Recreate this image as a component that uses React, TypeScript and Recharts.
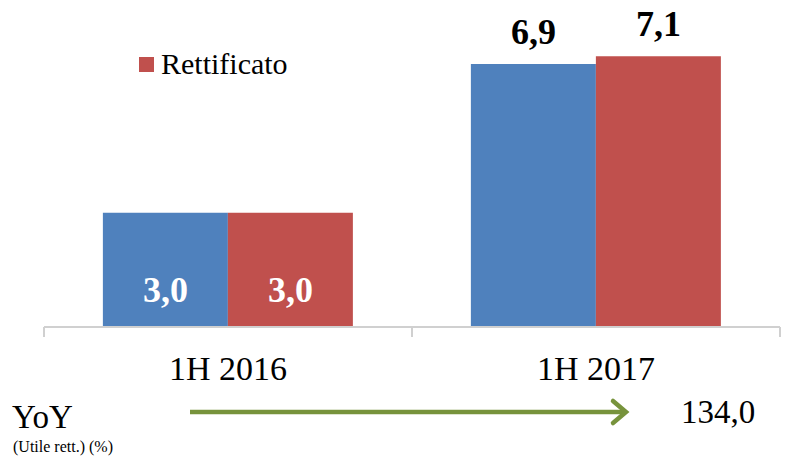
import { BarChart, Bar, XAxis, YAxis, LabelList } from 'recharts';

const categories = ['1H 2016', '1H 2017'];
const contabile = [3.0, 6.9];
const rettificato = [3.0, 7.1];
const yoyValue = '134,0';

const data = categories.map((c, i) => ({
  period: c,
  contabile: contabile[i],
  rettificato: rettificato[i],
}));

const FONT = '"Liberation Serif", "Times New Roman", serif';
const BLUE = '#4F81BD';
const RED = '#C0504D';
const W = 788;
const H = 461;
const margin = { top: 22, right: 8, left: 44, bottom: 74 };
const band = (W - margin.left - margin.right) / categories.length;

const fmt = (v: number) => v.toFixed(1).replace('.', ',');

function PeriodTick(props: any) {
  const { x, y, payload, index } = props;
  return (
    <g>
      <line x1={x - band / 2} x2={x - band / 2} y1={y} y2={y + 10} stroke="#D0D0D0" strokeWidth={2} />
      {index === categories.length - 1 && (
        <line x1={x + band / 2} x2={x + band / 2} y1={y} y2={y + 10} stroke="#D0D0D0" strokeWidth={2} />
      )}
      <text x={x} y={y + 53} textAnchor="middle" fontFamily={FONT} fontSize={34} fill="#000">
        {payload.value}
      </text>
    </g>
  );
}

function ValueLabel(props: any) {
  const { x, y, width, height, value, index } = props;
  const inside = index === 0;
  return (
    <text
      x={x + width / 2}
      y={inside ? y + height - 25 : y - 20}
      textAnchor="middle"
      fontFamily={FONT}
      fontSize={36}
      fontWeight="bold"
      fill={inside ? '#fff' : '#000'}
    >
      {fmt(value)}
    </text>
  );
}

export default function App() {
  return (
    <div style={{ position: 'absolute', left: 0, top: 0, width: W, height: H, background: '#fff' }}>
      <BarChart width={W} height={H} data={data} margin={margin} barCategoryGap="16%" barGap={0}>
        <XAxis
          dataKey="period"
          axisLine={{ stroke: '#D0D0D0', strokeWidth: 2 }}
          tickLine={false}
          tickSize={0}
          tickMargin={0}
          height={60}
          tick={<PeriodTick />}
          interval={0}
        />
        <YAxis hide domain={[0, 8]} />
        <Bar dataKey="contabile" name="Contabile" fill={BLUE} isAnimationActive={false}>
          <LabelList dataKey="contabile" content={<ValueLabel />} />
        </Bar>
        <Bar dataKey="rettificato" name="Rettificato" fill={RED} isAnimationActive={false}>
          <LabelList dataKey="rettificato" content={<ValueLabel />} />
        </Bar>
      </BarChart>
      {/* only the adjusted series appears in the legend */}
      <div
        style={{
          position: 'absolute',
          left: 139,
          top: 46,
          display: 'flex',
          alignItems: 'center',
          fontFamily: FONT,
          fontSize: 30,
          lineHeight: '36px',
        }}
      >
        <span style={{ width: 15, height: 15, background: RED, marginRight: 7 }} />
        Rettificato
      </div>
      <svg width={W} height={H} style={{ position: 'absolute', left: 0, top: 0, pointerEvents: 'none' }}>
        <text x={12} y={428} fontFamily={FONT} fontSize={33} fill="#000">YoY</text>
        <text x={13} y={452} fontFamily={FONT} fontSize={16} fill="#000">(Utile rett.) (%)</text>
        <line x1={190} x2={625} y1={412} y2={412} stroke="#77933C" strokeWidth={4.5} />
        <polyline points="613,401 626,412 613,423" fill="none" stroke="#77933C" strokeWidth={4.5} strokeLinecap="round" />
        <text x={681} y={423} fontFamily={FONT} fontSize={33} fill="#000">{yoyValue}</text>
      </svg>
    </div>
  );
}
